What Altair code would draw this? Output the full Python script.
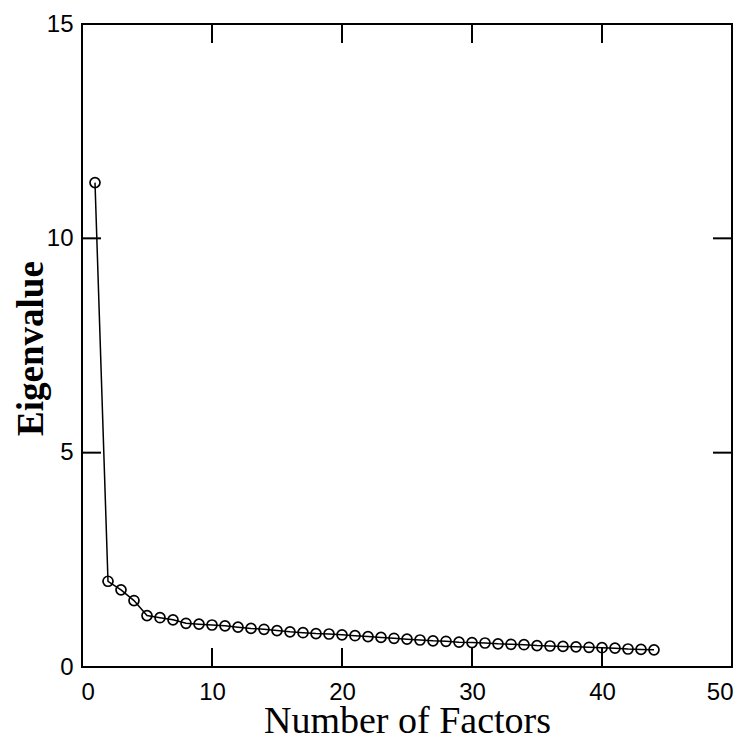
import altair as alt
import pandas as pd

factors = [1, 2, 3, 4, 5, 6, 7, 8, 9, 10, 11, 12, 13, 14, 15, 16, 17, 18, 19, 20, 21, 22,
           23, 24, 25, 26, 27, 28, 29, 30, 31, 32, 33, 34, 35, 36, 37, 38, 39, 40, 41, 42, 43, 44]
eigenvalues = [11.3, 2.0, 1.8, 1.55, 1.2, 1.15, 1.1, 1.02, 1.0, 0.98, 0.96, 0.93, 0.9, 0.88,
               0.85, 0.82, 0.8, 0.78, 0.77, 0.75, 0.73, 0.71, 0.69, 0.67, 0.65, 0.63, 0.61,
               0.6, 0.58, 0.57, 0.56, 0.54, 0.53, 0.52, 0.5, 0.49, 0.48, 0.47, 0.46, 0.45,
               0.44, 0.42, 0.41, 0.4]
x_ticks = [10, 20, 30, 40]
y_ticks = [5, 10]
x_labels = [0, 10, 20, 30, 40, 50]
y_labels = [0, 5, 10, 15]

W, H = 650, 643
TICK = 19

df = pd.DataFrame({"factor": factors, "eig": eigenvalues})
xt = pd.DataFrame({"t": x_ticks})
yt = pd.DataFrame({"t": y_ticks})

label_font = "Liberation Sans"

xscale = alt.Scale(domain=[0, 50], nice=False, zero=False)
yscale = alt.Scale(domain=[0, 15], nice=False, zero=False)

x_enc = alt.X(
    "factor:Q", scale=xscale,
    axis=alt.Axis(values=x_labels, title="Number of Factors", grid=False, ticks=False,
                  domain=False, labelFont=label_font, labelFontSize=24, labelColor="black",
                  labelPadding=13, labelFlush=True, labelFlushOffset=1,
                  titleFont="Liberation Serif", titleFontSize=38, titleFontWeight="normal",
                  titleColor="black", titleY=65, titleBaseline="alphabetic"))
y_enc = alt.Y(
    "eig:Q", scale=yscale,
    axis=alt.Axis(values=y_labels, title="Eigenvalue", grid=False, ticks=False,
                  domain=False, labelFont=label_font, labelFontSize=24, labelColor="black",
                  labelPadding=9, labelFlush=False,
                  titleFont="Liberation Serif", titleFontSize=37, titleFontWeight="bold",
                  titleColor="black", titleAngle=270, titleX=-51, titleY=324,
                  titleAlign="center", titleBaseline="middle"))

line = alt.Chart(df).mark_line(color="black", strokeWidth=1.5).encode(x=x_enc, y=y_enc)
pts = alt.Chart(df).mark_point(shape="circle", filled=False, color="black", size=100,
                               strokeWidth=1.7, opacity=1).encode(x="factor:Q", y="eig:Q")

bt = alt.Chart(xt).mark_rule(color="black", strokeWidth=2).encode(
    x=alt.X("t:Q", scale=xscale), y=alt.value(H), y2=alt.value(H - TICK))
tt = alt.Chart(xt).mark_rule(color="black", strokeWidth=2).encode(
    x=alt.X("t:Q", scale=xscale), y=alt.value(0), y2=alt.value(TICK))
lt = alt.Chart(yt).mark_rule(color="black", strokeWidth=2).encode(
    y=alt.Y("t:Q", scale=yscale), x=alt.value(0), x2=alt.value(TICK))
rt = alt.Chart(yt).mark_rule(color="black", strokeWidth=2).encode(
    y=alt.Y("t:Q", scale=yscale), x=alt.value(W), x2=alt.value(W - TICK))

chart = alt.layer(line, pts, bt, tt, lt, rt).properties(
    width=W, height=H,
    autosize=alt.AutoSizeParams(type="none"),
    padding={"left": 74, "top": 16, "right": 6, "bottom": 68},
).configure(
    background="white",
    view=alt.ViewConfig(stroke="black", strokeWidth=2),
)

chart.save("out.html", embed_options={"renderer": "svg", "actions": False})
